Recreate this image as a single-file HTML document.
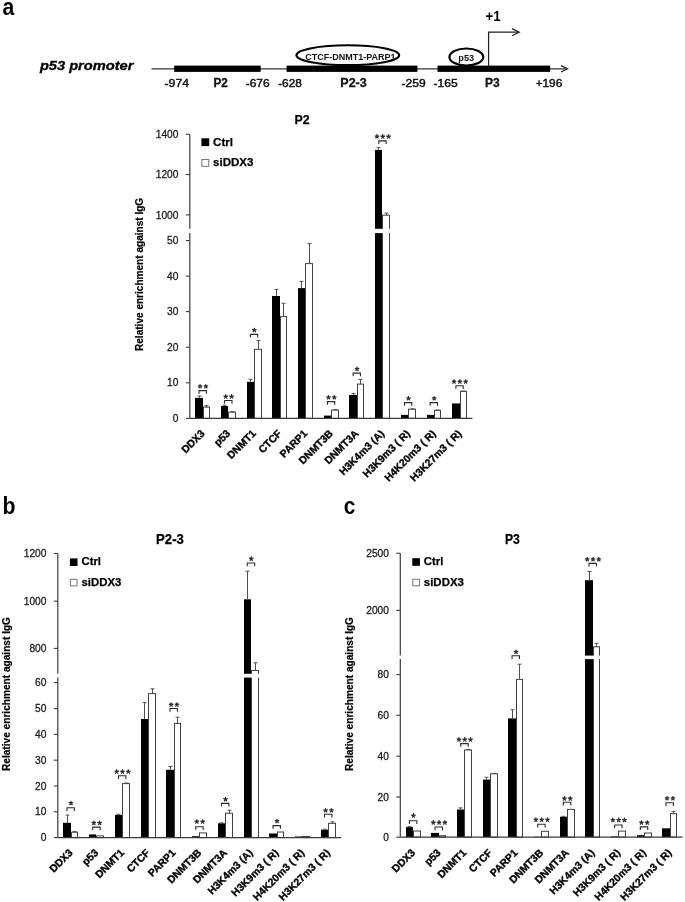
<!DOCTYPE html><html><head><meta charset="utf-8"><style>html,body{margin:0;padding:0;background:#fff;}svg{display:block;filter:grayscale(1);font-family:"Liberation Sans", sans-serif;}</style></head><body>
<svg width="685" height="902" viewBox="0 0 685 902">
<rect x="0" y="0" width="685" height="902" fill="#fff"/>
<text x="2.4" y="15" font-size="24" font-weight="bold" textLength="11.8" lengthAdjust="spacingAndGlyphs">a</text>
<text x="2.4" y="513.8" font-size="24" font-weight="bold" textLength="13" lengthAdjust="spacingAndGlyphs">b</text>
<text x="343.8" y="514.2" font-size="23" font-weight="bold" textLength="11.6" lengthAdjust="spacingAndGlyphs">c</text>
<text x="39.9" y="70.2" font-size="12.5" font-weight="bold" font-style="italic" textLength="93.5" lengthAdjust="spacingAndGlyphs" stroke="#000" stroke-width="0.3">p53 promoter</text>
<line x1="151.5" y1="68.8" x2="566" y2="68.8" stroke="#333" stroke-width="1.15"/>
<path d="M561 65.6 L567.6 68.8 L561 72" fill="none" stroke="#222" stroke-width="1.2"/>
<rect x="174.2" y="65.6" width="86.5" height="6.3" fill="#000"/>
<rect x="286.6" y="65.6" width="130.8" height="6.3" fill="#000"/>
<rect x="437.5" y="65.6" width="112.6" height="6.3" fill="#000"/>
<ellipse cx="347.8" cy="55.2" rx="51.4" ry="9.9" fill="#fff" stroke="#000" stroke-width="2.1"/>
<ellipse cx="466.35" cy="57" rx="16.9" ry="8.5" fill="#fff" stroke="#000" stroke-width="2.2"/>
<text x="305.2" y="59.8" font-size="9.6" font-weight="bold" fill="#111" textLength="90.4" lengthAdjust="spacingAndGlyphs">CTCF-DNMT1-PARP1</text>
<text x="458.3" y="61.1" font-size="9.4" font-weight="bold" fill="#111" textLength="15.8" lengthAdjust="spacingAndGlyphs">p53</text>
<path d="M488.6 66.5 V32.2 H519" fill="none" stroke="#222" stroke-width="1.25"/>
<path d="M512 28.6 L519.2 32.2 L512 35.8" fill="none" stroke="#222" stroke-width="1.2"/>
<text x="485.4" y="20.9" font-size="14" font-weight="bold" textLength="15.2" lengthAdjust="spacingAndGlyphs">+1</text>
<text x="164.5" y="86.9" font-size="11.6" fill="#111" textLength="24.5" lengthAdjust="spacingAndGlyphs" stroke="#111" stroke-width="0.45">-974</text>
<text x="213.5" y="86.9" font-size="12.4" font-weight="bold" fill="#111" textLength="14.3" lengthAdjust="spacingAndGlyphs" stroke="#111" stroke-width="0.3">P2</text>
<text x="245.8" y="86.9" font-size="11.6" fill="#111" textLength="23.8" lengthAdjust="spacingAndGlyphs" stroke="#111" stroke-width="0.45">-676</text>
<text x="278.2" y="86.9" font-size="11.6" fill="#111" textLength="23.6" lengthAdjust="spacingAndGlyphs" stroke="#111" stroke-width="0.45">-628</text>
<text x="340.3" y="86.9" font-size="12.4" font-weight="bold" fill="#111" textLength="26.4" lengthAdjust="spacingAndGlyphs" stroke="#111" stroke-width="0.3">P2-3</text>
<text x="401.6" y="86.9" font-size="11.6" fill="#111" textLength="24.1" lengthAdjust="spacingAndGlyphs" stroke="#111" stroke-width="0.45">-259</text>
<text x="433.6" y="86.9" font-size="11.6" fill="#111" textLength="24.1" lengthAdjust="spacingAndGlyphs" stroke="#111" stroke-width="0.45">-165</text>
<text x="485" y="86.9" font-size="12.4" font-weight="bold" fill="#111" textLength="14.7" lengthAdjust="spacingAndGlyphs" stroke="#111" stroke-width="0.3">P3</text>
<text x="535.7" y="86.9" font-size="11.6" fill="#111" textLength="26.5" lengthAdjust="spacingAndGlyphs" stroke="#111" stroke-width="0.45">+196</text>
<rect x="203.5" y="407.1" width="6" height="11.3" fill="#fff" stroke="#404040" stroke-width="1"/>
<rect x="195" y="397.9" width="8" height="20.5" fill="#000"/>
<line x1="199.5" y1="397.9" x2="199.5" y2="396" stroke="#505050" stroke-width="1"/>
<line x1="197.5" y1="396" x2="201.5" y2="396" stroke="#505050" stroke-width="1"/>
<line x1="206.5" y1="407.1" x2="206.5" y2="405.6" stroke="#505050" stroke-width="1"/>
<line x1="204.5" y1="405.6" x2="208.5" y2="405.6" stroke="#505050" stroke-width="1"/>
<rect x="228.5" y="412.2" width="7" height="6.2" fill="#fff" stroke="#404040" stroke-width="1"/>
<rect x="221" y="406" width="7" height="12.4" fill="#000"/>
<line x1="224.5" y1="406" x2="224.5" y2="405.2" stroke="#505050" stroke-width="1"/>
<line x1="222.5" y1="405.2" x2="226.5" y2="405.2" stroke="#505050" stroke-width="1"/>
<line x1="232.5" y1="412.2" x2="232.5" y2="411.6" stroke="#505050" stroke-width="1"/>
<line x1="230.5" y1="411.6" x2="234.5" y2="411.6" stroke="#505050" stroke-width="1"/>
<rect x="254.5" y="349.3" width="7" height="69.1" fill="#fff" stroke="#404040" stroke-width="1"/>
<rect x="247" y="381.8" width="7" height="36.6" fill="#000"/>
<line x1="250.5" y1="381.8" x2="250.5" y2="379.3" stroke="#505050" stroke-width="1"/>
<line x1="248.5" y1="379.3" x2="252.5" y2="379.3" stroke="#505050" stroke-width="1"/>
<line x1="258.5" y1="349.3" x2="258.5" y2="340.5" stroke="#505050" stroke-width="1"/>
<line x1="256.5" y1="340.5" x2="260.5" y2="340.5" stroke="#505050" stroke-width="1"/>
<rect x="280.5" y="316.6" width="6" height="101.8" fill="#fff" stroke="#404040" stroke-width="1"/>
<rect x="272" y="296" width="8" height="122.4" fill="#000"/>
<line x1="276.5" y1="296" x2="276.5" y2="289.4" stroke="#505050" stroke-width="1"/>
<line x1="274.5" y1="289.4" x2="278.5" y2="289.4" stroke="#505050" stroke-width="1"/>
<line x1="283.5" y1="316.6" x2="283.5" y2="303.3" stroke="#505050" stroke-width="1"/>
<line x1="281.5" y1="303.3" x2="285.5" y2="303.3" stroke="#505050" stroke-width="1"/>
<rect x="305.5" y="263.6" width="7" height="154.8" fill="#fff" stroke="#404040" stroke-width="1"/>
<rect x="298" y="288.1" width="7" height="130.3" fill="#000"/>
<line x1="301.5" y1="288.1" x2="301.5" y2="281.4" stroke="#505050" stroke-width="1"/>
<line x1="299.5" y1="281.4" x2="303.5" y2="281.4" stroke="#505050" stroke-width="1"/>
<line x1="309.5" y1="263.6" x2="309.5" y2="243.6" stroke="#505050" stroke-width="1"/>
<line x1="307.5" y1="243.6" x2="311.5" y2="243.6" stroke="#505050" stroke-width="1"/>
<rect x="331.5" y="410.1" width="7" height="8.3" fill="#fff" stroke="#404040" stroke-width="1"/>
<rect x="324" y="415.6" width="7" height="2.8" fill="#000"/>
<line x1="335.5" y1="410.1" x2="335.5" y2="409.6" stroke="#505050" stroke-width="1"/>
<line x1="333.5" y1="409.6" x2="337.5" y2="409.6" stroke="#505050" stroke-width="1"/>
<rect x="357.5" y="384.1" width="6" height="34.3" fill="#fff" stroke="#404040" stroke-width="1"/>
<rect x="349" y="395" width="8" height="23.4" fill="#000"/>
<line x1="353.5" y1="395" x2="353.5" y2="393.6" stroke="#505050" stroke-width="1"/>
<line x1="351.5" y1="393.6" x2="355.5" y2="393.6" stroke="#505050" stroke-width="1"/>
<line x1="360.5" y1="384.1" x2="360.5" y2="379.4" stroke="#505050" stroke-width="1"/>
<line x1="358.5" y1="379.4" x2="362.5" y2="379.4" stroke="#505050" stroke-width="1"/>
<rect x="382.5" y="215.2" width="7" height="203.2" fill="#fff" stroke="#404040" stroke-width="1"/>
<rect x="375" y="149.9" width="7" height="268.5" fill="#000"/>
<line x1="378.5" y1="149.9" x2="378.5" y2="147.7" stroke="#505050" stroke-width="1"/>
<line x1="376.5" y1="147.7" x2="380.5" y2="147.7" stroke="#505050" stroke-width="1"/>
<line x1="386.5" y1="215.2" x2="386.5" y2="213.1" stroke="#505050" stroke-width="1"/>
<line x1="384.5" y1="213.1" x2="388.5" y2="213.1" stroke="#505050" stroke-width="1"/>
<rect x="408.5" y="409.2" width="7" height="9.2" fill="#fff" stroke="#404040" stroke-width="1"/>
<rect x="401" y="414.9" width="7" height="3.5" fill="#000"/>
<line x1="412.5" y1="409.2" x2="412.5" y2="408.8" stroke="#505050" stroke-width="1"/>
<line x1="410.5" y1="408.8" x2="414.5" y2="408.8" stroke="#505050" stroke-width="1"/>
<rect x="434.5" y="410.4" width="6" height="8" fill="#fff" stroke="#404040" stroke-width="1"/>
<rect x="427" y="414.9" width="7" height="3.5" fill="#000"/>
<line x1="437.5" y1="410.4" x2="437.5" y2="410" stroke="#505050" stroke-width="1"/>
<line x1="435.5" y1="410" x2="439.5" y2="410" stroke="#505050" stroke-width="1"/>
<rect x="460.5" y="391.4" width="6" height="27" fill="#fff" stroke="#404040" stroke-width="1"/>
<rect x="452" y="403.4" width="8" height="15" fill="#000"/>
<line x1="463.5" y1="391.4" x2="463.5" y2="391" stroke="#505050" stroke-width="1"/>
<line x1="461.5" y1="391" x2="465.5" y2="391" stroke="#505050" stroke-width="1"/>
<rect x="190.6" y="228.8" width="282.6" height="4.3" fill="#fff"/>
<path d="M199 393.8 V390.6 H206.3 V393.8" fill="none" stroke="#2a2a2a" stroke-width="1.1"/>
<path d="M200.05 386.4L200.05 384.55M200.05 386.4L201.8 385.83M200.05 386.4L201.13 387.9M200.05 386.4L198.96 387.9M200.05 386.4L198.29 385.83M205.85 386.4L205.85 384.55M205.85 386.4L207.6 385.83M205.85 386.4L206.93 387.9M205.85 386.4L204.76 387.9M205.85 386.4L204.09 385.83" stroke="#2a2a2a" stroke-width="1.3" stroke-linecap="round"/>
<path d="M224.69 403.7 V400.5 H231.99 V403.7" fill="none" stroke="#2a2a2a" stroke-width="1.1"/>
<path d="M225.74 396.6L225.74 394.75M225.74 396.6L227.5 396.03M225.74 396.6L226.82 398.1M225.74 396.6L224.65 398.1M225.74 396.6L223.98 396.03M231.54 396.6L231.54 394.75M231.54 396.6L233.3 396.03M231.54 396.6L232.62 398.1M231.54 396.6L230.45 398.1M231.54 396.6L229.78 396.03" stroke="#2a2a2a" stroke-width="1.3" stroke-linecap="round"/>
<path d="M250.38 337.6 V334.4 H257.68 V337.6" fill="none" stroke="#2a2a2a" stroke-width="1.1"/>
<path d="M254.33 330.2L254.33 328.35M254.33 330.2L256.09 329.63M254.33 330.2L255.41 331.7M254.33 330.2L253.24 331.7M254.33 330.2L252.57 329.63" stroke="#2a2a2a" stroke-width="1.3" stroke-linecap="round"/>
<path d="M327.45 404.8 V401.6 H334.75 V404.8" fill="none" stroke="#2a2a2a" stroke-width="1.1"/>
<path d="M328.5 397.4L328.5 395.55M328.5 397.4L330.26 396.83M328.5 397.4L329.59 398.9M328.5 397.4L327.41 398.9M328.5 397.4L326.74 396.83M334.3 397.4L334.3 395.55M334.3 397.4L336.06 396.83M334.3 397.4L335.39 398.9M334.3 397.4L333.21 398.9M334.3 397.4L332.54 396.83" stroke="#2a2a2a" stroke-width="1.3" stroke-linecap="round"/>
<path d="M353.14 376.3 V373.1 H360.44 V376.3" fill="none" stroke="#2a2a2a" stroke-width="1.1"/>
<path d="M357.09 369L357.09 367.15M357.09 369L358.85 368.43M357.09 369L358.18 370.5M357.09 369L356 370.5M357.09 369L355.33 368.43" stroke="#2a2a2a" stroke-width="1.3" stroke-linecap="round"/>
<path d="M378.83 144.1 V140.9 H386.13 V144.1" fill="none" stroke="#2a2a2a" stroke-width="1.1"/>
<path d="M376.98 136.6L376.98 134.75M376.98 136.6L378.74 136.03M376.98 136.6L378.07 138.1M376.98 136.6L375.89 138.1M376.98 136.6L375.22 136.03M382.78 136.6L382.78 134.75M382.78 136.6L384.54 136.03M382.78 136.6L383.87 138.1M382.78 136.6L381.69 138.1M382.78 136.6L381.02 136.03M388.58 136.6L388.58 134.75M388.58 136.6L390.34 136.03M388.58 136.6L389.67 138.1M388.58 136.6L387.49 138.1M388.58 136.6L386.82 136.03" stroke="#2a2a2a" stroke-width="1.3" stroke-linecap="round"/>
<path d="M404.52 405.8 V402.6 H411.82 V405.8" fill="none" stroke="#2a2a2a" stroke-width="1.1"/>
<path d="M408.47 398.4L408.47 396.55M408.47 398.4L410.23 397.83M408.47 398.4L409.56 399.9M408.47 398.4L407.39 399.9M408.47 398.4L406.71 397.83" stroke="#2a2a2a" stroke-width="1.3" stroke-linecap="round"/>
<path d="M430.21 405.8 V402.6 H437.51 V405.8" fill="none" stroke="#2a2a2a" stroke-width="1.1"/>
<path d="M434.16 398.4L434.16 396.55M434.16 398.4L435.92 397.83M434.16 398.4L435.25 399.9M434.16 398.4L433.08 399.9M434.16 398.4L432.4 397.83" stroke="#2a2a2a" stroke-width="1.3" stroke-linecap="round"/>
<path d="M455.9 389 V385.8 H463.2 V389" fill="none" stroke="#2a2a2a" stroke-width="1.1"/>
<path d="M454.05 381.7L454.05 379.85M454.05 381.7L455.81 381.13M454.05 381.7L455.14 383.2M454.05 381.7L452.97 383.2M454.05 381.7L452.3 381.13M459.85 381.7L459.85 379.85M459.85 381.7L461.61 381.13M459.85 381.7L460.94 383.2M459.85 381.7L458.77 383.2M459.85 381.7L458.1 381.13M465.65 381.7L465.65 379.85M465.65 381.7L467.41 381.13M465.65 381.7L466.74 383.2M465.65 381.7L464.57 383.2M465.65 381.7L463.9 381.13" stroke="#2a2a2a" stroke-width="1.3" stroke-linecap="round"/>
<line x1="189.8" y1="134.3" x2="189.8" y2="228.8" stroke="#3a3a3a" stroke-width="1.2"/>
<line x1="189.8" y1="233.1" x2="189.8" y2="418.4" stroke="#3a3a3a" stroke-width="1.2"/>
<line x1="189.8" y1="418.4" x2="472.4" y2="418.4" stroke="#3a3a3a" stroke-width="1.2"/>
<line x1="185.8" y1="134.3" x2="189.8" y2="134.3" stroke="#3a3a3a" stroke-width="1.1"/>
<text x="178.4" y="137.9" font-size="10.2" text-anchor="end" fill="#1a1a1a" stroke="#1a1a1a" stroke-width="0.28">1400</text>
<line x1="185.8" y1="174.5" x2="189.8" y2="174.5" stroke="#3a3a3a" stroke-width="1.1"/>
<text x="178.4" y="178.1" font-size="10.2" text-anchor="end" fill="#1a1a1a" stroke="#1a1a1a" stroke-width="0.28">1200</text>
<line x1="185.8" y1="214.9" x2="189.8" y2="214.9" stroke="#3a3a3a" stroke-width="1.1"/>
<text x="178.4" y="218.5" font-size="10.2" text-anchor="end" fill="#1a1a1a" stroke="#1a1a1a" stroke-width="0.28">1000</text>
<line x1="185.8" y1="240.6" x2="189.8" y2="240.6" stroke="#3a3a3a" stroke-width="1.1"/>
<text x="178.4" y="244.2" font-size="10.2" text-anchor="end" fill="#1a1a1a" stroke="#1a1a1a" stroke-width="0.28">50</text>
<line x1="185.8" y1="276.1" x2="189.8" y2="276.1" stroke="#3a3a3a" stroke-width="1.1"/>
<text x="178.4" y="279.7" font-size="10.2" text-anchor="end" fill="#1a1a1a" stroke="#1a1a1a" stroke-width="0.28">40</text>
<line x1="185.8" y1="311.6" x2="189.8" y2="311.6" stroke="#3a3a3a" stroke-width="1.1"/>
<text x="178.4" y="315.2" font-size="10.2" text-anchor="end" fill="#1a1a1a" stroke="#1a1a1a" stroke-width="0.28">30</text>
<line x1="185.8" y1="347.3" x2="189.8" y2="347.3" stroke="#3a3a3a" stroke-width="1.1"/>
<text x="178.4" y="350.9" font-size="10.2" text-anchor="end" fill="#1a1a1a" stroke="#1a1a1a" stroke-width="0.28">20</text>
<line x1="185.8" y1="382.8" x2="189.8" y2="382.8" stroke="#3a3a3a" stroke-width="1.1"/>
<text x="178.4" y="386.4" font-size="10.2" text-anchor="end" fill="#1a1a1a" stroke="#1a1a1a" stroke-width="0.28">10</text>
<line x1="185.8" y1="418.4" x2="189.8" y2="418.4" stroke="#3a3a3a" stroke-width="1.1"/>
<text x="178.4" y="422" font-size="10.2" text-anchor="end" fill="#1a1a1a" stroke="#1a1a1a" stroke-width="0.28">0</text>
<text x="205.25" y="434.2" font-size="10.4" font-weight="bold" text-anchor="end" transform="rotate(-45 205.25 434.2)" stroke="#000" stroke-width="0.35">DDX3</text>
<text x="230.94" y="434.2" font-size="10.4" font-weight="bold" text-anchor="end" transform="rotate(-45 230.94 434.2)" stroke="#000" stroke-width="0.35">p53</text>
<text x="256.63" y="434.2" font-size="10.4" font-weight="bold" text-anchor="end" transform="rotate(-45 256.63 434.2)" stroke="#000" stroke-width="0.35">DNMT1</text>
<text x="282.32" y="434.2" font-size="10.4" font-weight="bold" text-anchor="end" transform="rotate(-45 282.32 434.2)" stroke="#000" stroke-width="0.35">CTCF</text>
<text x="308.01" y="434.2" font-size="10.4" font-weight="bold" text-anchor="end" transform="rotate(-45 308.01 434.2)" stroke="#000" stroke-width="0.35">PARP1</text>
<text x="333.7" y="434.2" font-size="10.4" font-weight="bold" text-anchor="end" transform="rotate(-45 333.7 434.2)" stroke="#000" stroke-width="0.35">DNMT3B</text>
<text x="359.39" y="434.2" font-size="10.4" font-weight="bold" text-anchor="end" transform="rotate(-45 359.39 434.2)" stroke="#000" stroke-width="0.35">DNMT3A</text>
<text x="385.08" y="434.2" font-size="10.4" font-weight="bold" text-anchor="end" transform="rotate(-45 385.08 434.2)" stroke="#000" stroke-width="0.35">H3K4m3 (A)</text>
<text x="410.77" y="434.2" font-size="10.4" font-weight="bold" text-anchor="end" transform="rotate(-45 410.77 434.2)" stroke="#000" stroke-width="0.35">H3K9m3 ( R)</text>
<text x="436.46" y="434.2" font-size="10.4" font-weight="bold" text-anchor="end" transform="rotate(-45 436.46 434.2)" stroke="#000" stroke-width="0.35">H4K20m3 ( R)</text>
<text x="462.15" y="434.2" font-size="10.4" font-weight="bold" text-anchor="end" transform="rotate(-45 462.15 434.2)" stroke="#000" stroke-width="0.35">H3K27m3 ( R)</text>
<text x="142.6" y="351" font-size="11" font-weight="bold" transform="rotate(-90 142.6 351)" textLength="153.2" lengthAdjust="spacingAndGlyphs" stroke="#000" stroke-width="0.2">Relative enrichment against IgG</text>
<text x="294.5" y="124.4" font-size="13.6" font-weight="bold" textLength="15.1" lengthAdjust="spacingAndGlyphs" stroke="#000" stroke-width="0.25">P2</text>
<rect x="201.4" y="138.3" width="7.8" height="7.8" fill="#000"/>
<rect x="201.9" y="159.5" width="6.8" height="6.8" fill="#fff" stroke="#777" stroke-width="1"/>
<text x="213" y="145.9" font-size="11.5" font-weight="bold" textLength="20" lengthAdjust="spacingAndGlyphs" stroke="#000" stroke-width="0.25">Ctrl</text>
<text x="213" y="166.3" font-size="11.5" font-weight="bold" textLength="40.5" lengthAdjust="spacingAndGlyphs" stroke="#000" stroke-width="0.25">siDDX3</text>
<rect x="71.5" y="832.2" width="6" height="5.4" fill="#fff" stroke="#404040" stroke-width="1"/>
<rect x="63" y="822.8" width="8" height="14.8" fill="#000"/>
<line x1="67.5" y1="822.8" x2="67.5" y2="815.1" stroke="#505050" stroke-width="1"/>
<line x1="65.5" y1="815.1" x2="69.5" y2="815.1" stroke="#505050" stroke-width="1"/>
<line x1="74.5" y1="832.2" x2="74.5" y2="831.6" stroke="#505050" stroke-width="1"/>
<line x1="72.5" y1="831.6" x2="76.5" y2="831.6" stroke="#505050" stroke-width="1"/>
<rect x="96.5" y="835.9" width="7" height="1.7" fill="#fff" stroke="#404040" stroke-width="1"/>
<rect x="89" y="834.4" width="7" height="3.2" fill="#000"/>
<rect x="122.5" y="783.6" width="7" height="54" fill="#fff" stroke="#404040" stroke-width="1"/>
<rect x="115" y="814.9" width="7" height="22.7" fill="#000"/>
<line x1="118.5" y1="814.9" x2="118.5" y2="814.2" stroke="#505050" stroke-width="1"/>
<line x1="116.5" y1="814.2" x2="120.5" y2="814.2" stroke="#505050" stroke-width="1"/>
<line x1="126.5" y1="783.6" x2="126.5" y2="783" stroke="#505050" stroke-width="1"/>
<line x1="124.5" y1="783" x2="128.5" y2="783" stroke="#505050" stroke-width="1"/>
<rect x="148.5" y="693.6" width="7" height="144" fill="#fff" stroke="#404040" stroke-width="1"/>
<rect x="141" y="719" width="7" height="118.6" fill="#000"/>
<line x1="144.5" y1="719" x2="144.5" y2="702.6" stroke="#505050" stroke-width="1"/>
<line x1="142.5" y1="702.6" x2="146.5" y2="702.6" stroke="#505050" stroke-width="1"/>
<line x1="152.5" y1="693.6" x2="152.5" y2="688.8" stroke="#505050" stroke-width="1"/>
<line x1="150.5" y1="688.8" x2="154.5" y2="688.8" stroke="#505050" stroke-width="1"/>
<rect x="174.5" y="723.4" width="6" height="114.2" fill="#fff" stroke="#404040" stroke-width="1"/>
<rect x="166" y="769.8" width="8" height="67.8" fill="#000"/>
<line x1="170.5" y1="769.8" x2="170.5" y2="766.5" stroke="#505050" stroke-width="1"/>
<line x1="168.5" y1="766.5" x2="172.5" y2="766.5" stroke="#505050" stroke-width="1"/>
<line x1="177.5" y1="723.4" x2="177.5" y2="717.2" stroke="#505050" stroke-width="1"/>
<line x1="175.5" y1="717.2" x2="179.5" y2="717.2" stroke="#505050" stroke-width="1"/>
<rect x="199.5" y="832.9" width="7" height="4.7" fill="#fff" stroke="#404040" stroke-width="1"/>
<rect x="192" y="836.2" width="7" height="1.4" fill="#000"/>
<rect x="225.5" y="813.2" width="7" height="24.4" fill="#fff" stroke="#404040" stroke-width="1"/>
<rect x="218" y="823.3" width="7" height="14.3" fill="#000"/>
<line x1="221.5" y1="823.3" x2="221.5" y2="822.8" stroke="#505050" stroke-width="1"/>
<line x1="219.5" y1="822.8" x2="223.5" y2="822.8" stroke="#505050" stroke-width="1"/>
<line x1="229.5" y1="813.2" x2="229.5" y2="810.2" stroke="#505050" stroke-width="1"/>
<line x1="227.5" y1="810.2" x2="231.5" y2="810.2" stroke="#505050" stroke-width="1"/>
<rect x="251.5" y="670.5" width="7" height="167.1" fill="#fff" stroke="#404040" stroke-width="1"/>
<rect x="244" y="599.3" width="7" height="238.3" fill="#000"/>
<line x1="247.5" y1="599.3" x2="247.5" y2="571.2" stroke="#505050" stroke-width="1"/>
<line x1="245.5" y1="571.2" x2="249.5" y2="571.2" stroke="#505050" stroke-width="1"/>
<line x1="255.5" y1="670.5" x2="255.5" y2="662.8" stroke="#505050" stroke-width="1"/>
<line x1="253.5" y1="662.8" x2="257.5" y2="662.8" stroke="#505050" stroke-width="1"/>
<rect x="277.5" y="832" width="6" height="5.6" fill="#fff" stroke="#404040" stroke-width="1"/>
<rect x="269" y="833.5" width="8" height="4.1" fill="#000"/>
<rect x="302.5" y="836.5" width="7" height="1.1" fill="#fff" stroke="#404040" stroke-width="1"/>
<rect x="295" y="836.5" width="7" height="1.1" fill="#000"/>
<rect x="328.5" y="823.3" width="7" height="14.3" fill="#fff" stroke="#404040" stroke-width="1"/>
<rect x="321" y="829.7" width="7" height="7.9" fill="#000"/>
<line x1="324.5" y1="829.7" x2="324.5" y2="829.2" stroke="#505050" stroke-width="1"/>
<line x1="322.5" y1="829.2" x2="326.5" y2="829.2" stroke="#505050" stroke-width="1"/>
<line x1="332.5" y1="823.3" x2="332.5" y2="821.8" stroke="#505050" stroke-width="1"/>
<line x1="330.5" y1="821.8" x2="334.5" y2="821.8" stroke="#505050" stroke-width="1"/>
<rect x="58.6" y="673.8" width="283.3" height="3.8" fill="#fff"/>
<path d="M66.98 810.9 V807.7 H74.38 V810.9" fill="none" stroke="#2a2a2a" stroke-width="1.1"/>
<path d="M70.98 803.2L70.98 801.35M70.98 803.2L72.74 802.63M70.98 803.2L72.06 804.7M70.98 803.2L69.89 804.7M70.98 803.2L69.22 802.63" stroke="#2a2a2a" stroke-width="1.3" stroke-linecap="round"/>
<path d="M92.73 830.3 V827.1 H100.13 V830.3" fill="none" stroke="#2a2a2a" stroke-width="1.1"/>
<path d="M93.83 823L93.83 821.15M93.83 823L95.59 822.43M93.83 823L94.92 824.5M93.83 823L92.74 824.5M93.83 823L92.07 822.43M99.63 823L99.63 821.15M99.63 823L101.39 822.43M99.63 823L100.72 824.5M99.63 823L98.54 824.5M99.63 823L97.87 822.43" stroke="#2a2a2a" stroke-width="1.3" stroke-linecap="round"/>
<path d="M118.49 778.9 V775.7 H125.89 V778.9" fill="none" stroke="#2a2a2a" stroke-width="1.1"/>
<path d="M116.69 771.7L116.69 769.85M116.69 771.7L118.45 771.13M116.69 771.7L117.77 773.2M116.69 771.7L115.6 773.2M116.69 771.7L114.93 771.13M122.49 771.7L122.49 769.85M122.49 771.7L124.25 771.13M122.49 771.7L123.57 773.2M122.49 771.7L121.4 773.2M122.49 771.7L120.73 771.13M128.29 771.7L128.29 769.85M128.29 771.7L130.05 771.13M128.29 771.7L129.37 773.2M128.29 771.7L127.2 773.2M128.29 771.7L126.53 771.13" stroke="#2a2a2a" stroke-width="1.3" stroke-linecap="round"/>
<path d="M170 711.7 V708.5 H177.4 V711.7" fill="none" stroke="#2a2a2a" stroke-width="1.1"/>
<path d="M171.1 704.7L171.1 702.85M171.1 704.7L172.85 704.13M171.1 704.7L172.18 706.2M171.1 704.7L170.01 706.2M171.1 704.7L169.34 704.13M176.9 704.7L176.9 702.85M176.9 704.7L178.65 704.13M176.9 704.7L177.98 706.2M176.9 704.7L175.81 706.2M176.9 704.7L175.14 704.13" stroke="#2a2a2a" stroke-width="1.3" stroke-linecap="round"/>
<path d="M195.75 829.9 V826.7 H203.15 V829.9" fill="none" stroke="#2a2a2a" stroke-width="1.1"/>
<path d="M196.85 821.7L196.85 819.85M196.85 821.7L198.61 821.13M196.85 821.7L197.94 823.2M196.85 821.7L195.76 823.2M196.85 821.7L195.09 821.13M202.65 821.7L202.65 819.85M202.65 821.7L204.41 821.13M202.65 821.7L203.74 823.2M202.65 821.7L201.56 823.2M202.65 821.7L200.89 821.13" stroke="#2a2a2a" stroke-width="1.3" stroke-linecap="round"/>
<path d="M221.5 806.6 V803.4 H228.9 V806.6" fill="none" stroke="#2a2a2a" stroke-width="1.1"/>
<path d="M225.5 799.3L225.5 797.45M225.5 799.3L227.26 798.73M225.5 799.3L226.59 800.8M225.5 799.3L224.42 800.8M225.5 799.3L223.75 798.73" stroke="#2a2a2a" stroke-width="1.3" stroke-linecap="round"/>
<path d="M247.26 566.2 V563 H254.66 V566.2" fill="none" stroke="#2a2a2a" stroke-width="1.1"/>
<path d="M251.26 558.8L251.26 556.95M251.26 558.8L253.02 558.23M251.26 558.8L252.35 560.3M251.26 558.8L250.17 560.3M251.26 558.8L249.5 558.23" stroke="#2a2a2a" stroke-width="1.3" stroke-linecap="round"/>
<path d="M273.01 828.8 V825.6 H280.41 V828.8" fill="none" stroke="#2a2a2a" stroke-width="1.1"/>
<path d="M277.01 821.2L277.01 819.35M277.01 821.2L278.77 820.63M277.01 821.2L278.1 822.7M277.01 821.2L275.93 822.7M277.01 821.2L275.25 820.63" stroke="#2a2a2a" stroke-width="1.3" stroke-linecap="round"/>
<path d="M324.52 817.5 V814.3 H331.92 V817.5" fill="none" stroke="#2a2a2a" stroke-width="1.1"/>
<path d="M325.62 810.4L325.62 808.55M325.62 810.4L327.38 809.83M325.62 810.4L326.71 811.9M325.62 810.4L324.54 811.9M325.62 810.4L323.86 809.83M331.42 810.4L331.42 808.55M331.42 810.4L333.18 809.83M331.42 810.4L332.51 811.9M331.42 810.4L330.34 811.9M331.42 810.4L329.66 809.83" stroke="#2a2a2a" stroke-width="1.3" stroke-linecap="round"/>
<line x1="57.8" y1="553.5" x2="57.8" y2="673.8" stroke="#3a3a3a" stroke-width="1.2"/>
<line x1="57.8" y1="677.6" x2="57.8" y2="837.6" stroke="#3a3a3a" stroke-width="1.2"/>
<line x1="57.8" y1="837.6" x2="341.1" y2="837.6" stroke="#3a3a3a" stroke-width="1.2"/>
<line x1="53.8" y1="553.5" x2="57.8" y2="553.5" stroke="#3a3a3a" stroke-width="1.1"/>
<text x="46.4" y="557.1" font-size="10.2" text-anchor="end" fill="#1a1a1a" stroke="#1a1a1a" stroke-width="0.28">1200</text>
<line x1="53.8" y1="601.2" x2="57.8" y2="601.2" stroke="#3a3a3a" stroke-width="1.1"/>
<text x="46.4" y="604.8" font-size="10.2" text-anchor="end" fill="#1a1a1a" stroke="#1a1a1a" stroke-width="0.28">1000</text>
<line x1="53.8" y1="648.4" x2="57.8" y2="648.4" stroke="#3a3a3a" stroke-width="1.1"/>
<text x="46.4" y="652" font-size="10.2" text-anchor="end" fill="#1a1a1a" stroke="#1a1a1a" stroke-width="0.28">800</text>
<line x1="53.8" y1="682.6" x2="57.8" y2="682.6" stroke="#3a3a3a" stroke-width="1.1"/>
<text x="46.4" y="686.2" font-size="10.2" text-anchor="end" fill="#1a1a1a" stroke="#1a1a1a" stroke-width="0.28">60</text>
<line x1="53.8" y1="708.6" x2="57.8" y2="708.6" stroke="#3a3a3a" stroke-width="1.1"/>
<text x="46.4" y="712.2" font-size="10.2" text-anchor="end" fill="#1a1a1a" stroke="#1a1a1a" stroke-width="0.28">50</text>
<line x1="53.8" y1="734.4" x2="57.8" y2="734.4" stroke="#3a3a3a" stroke-width="1.1"/>
<text x="46.4" y="738" font-size="10.2" text-anchor="end" fill="#1a1a1a" stroke="#1a1a1a" stroke-width="0.28">40</text>
<line x1="53.8" y1="760.2" x2="57.8" y2="760.2" stroke="#3a3a3a" stroke-width="1.1"/>
<text x="46.4" y="763.8" font-size="10.2" text-anchor="end" fill="#1a1a1a" stroke="#1a1a1a" stroke-width="0.28">30</text>
<line x1="53.8" y1="786" x2="57.8" y2="786" stroke="#3a3a3a" stroke-width="1.1"/>
<text x="46.4" y="789.6" font-size="10.2" text-anchor="end" fill="#1a1a1a" stroke="#1a1a1a" stroke-width="0.28">20</text>
<line x1="53.8" y1="811.8" x2="57.8" y2="811.8" stroke="#3a3a3a" stroke-width="1.1"/>
<text x="46.4" y="815.4" font-size="10.2" text-anchor="end" fill="#1a1a1a" stroke="#1a1a1a" stroke-width="0.28">10</text>
<line x1="53.8" y1="837.6" x2="57.8" y2="837.6" stroke="#3a3a3a" stroke-width="1.1"/>
<text x="46.4" y="841.2" font-size="10.2" text-anchor="end" fill="#1a1a1a" stroke="#1a1a1a" stroke-width="0.28">0</text>
<text x="73.28" y="853.4" font-size="10.4" font-weight="bold" text-anchor="end" transform="rotate(-45 73.28 853.4)" stroke="#000" stroke-width="0.35">DDX3</text>
<text x="99.03" y="853.4" font-size="10.4" font-weight="bold" text-anchor="end" transform="rotate(-45 99.03 853.4)" stroke="#000" stroke-width="0.35">p53</text>
<text x="124.79" y="853.4" font-size="10.4" font-weight="bold" text-anchor="end" transform="rotate(-45 124.79 853.4)" stroke="#000" stroke-width="0.35">DNMT1</text>
<text x="150.54" y="853.4" font-size="10.4" font-weight="bold" text-anchor="end" transform="rotate(-45 150.54 853.4)" stroke="#000" stroke-width="0.35">CTCF</text>
<text x="176.3" y="853.4" font-size="10.4" font-weight="bold" text-anchor="end" transform="rotate(-45 176.3 853.4)" stroke="#000" stroke-width="0.35">PARP1</text>
<text x="202.05" y="853.4" font-size="10.4" font-weight="bold" text-anchor="end" transform="rotate(-45 202.05 853.4)" stroke="#000" stroke-width="0.35">DNMT3B</text>
<text x="227.8" y="853.4" font-size="10.4" font-weight="bold" text-anchor="end" transform="rotate(-45 227.8 853.4)" stroke="#000" stroke-width="0.35">DNMT3A</text>
<text x="253.56" y="853.4" font-size="10.4" font-weight="bold" text-anchor="end" transform="rotate(-45 253.56 853.4)" stroke="#000" stroke-width="0.35">H3K4m3 (A)</text>
<text x="279.31" y="853.4" font-size="10.4" font-weight="bold" text-anchor="end" transform="rotate(-45 279.31 853.4)" stroke="#000" stroke-width="0.35">H3K9m3 ( R)</text>
<text x="305.07" y="853.4" font-size="10.4" font-weight="bold" text-anchor="end" transform="rotate(-45 305.07 853.4)" stroke="#000" stroke-width="0.35">H4K20m3 ( R)</text>
<text x="330.82" y="853.4" font-size="10.4" font-weight="bold" text-anchor="end" transform="rotate(-45 330.82 853.4)" stroke="#000" stroke-width="0.35">H3K27m3 ( R)</text>
<text x="10.4" y="771" font-size="11" font-weight="bold" transform="rotate(-90 10.4 771)" textLength="154" lengthAdjust="spacingAndGlyphs" stroke="#000" stroke-width="0.2">Relative enrichment against IgG</text>
<text x="156.1" y="543.8" font-size="13.8" font-weight="bold" textLength="27.8" lengthAdjust="spacingAndGlyphs" stroke="#000" stroke-width="0.25">P2-3</text>
<rect x="69.9" y="558.4" width="7.6" height="7.6" fill="#000"/>
<rect x="70.4" y="579.3" width="6.6" height="6.6" fill="#fff" stroke="#777" stroke-width="1"/>
<text x="81.5" y="565.4" font-size="11.5" font-weight="bold" textLength="19.4" lengthAdjust="spacingAndGlyphs" stroke="#000" stroke-width="0.25">Ctrl</text>
<text x="81.5" y="586.2" font-size="11.5" font-weight="bold" textLength="39.8" lengthAdjust="spacingAndGlyphs" stroke="#000" stroke-width="0.25">siDDX3</text>
<rect x="413.5" y="831" width="7" height="6.2" fill="#fff" stroke="#404040" stroke-width="1"/>
<rect x="406" y="827.1" width="7" height="10.1" fill="#000"/>
<line x1="409.5" y1="827.1" x2="409.5" y2="826.6" stroke="#505050" stroke-width="1"/>
<line x1="407.5" y1="826.6" x2="411.5" y2="826.6" stroke="#505050" stroke-width="1"/>
<rect x="439.5" y="835.7" width="6" height="1.5" fill="#fff" stroke="#404040" stroke-width="1"/>
<rect x="431" y="832.9" width="8" height="4.3" fill="#000"/>
<rect x="464.5" y="750" width="7" height="87.2" fill="#fff" stroke="#404040" stroke-width="1"/>
<rect x="457" y="809.5" width="7" height="27.7" fill="#000"/>
<line x1="460.5" y1="809.5" x2="460.5" y2="807.9" stroke="#505050" stroke-width="1"/>
<line x1="458.5" y1="807.9" x2="462.5" y2="807.9" stroke="#505050" stroke-width="1"/>
<line x1="468.5" y1="750" x2="468.5" y2="749.5" stroke="#505050" stroke-width="1"/>
<line x1="466.5" y1="749.5" x2="470.5" y2="749.5" stroke="#505050" stroke-width="1"/>
<rect x="490.5" y="773.8" width="7" height="63.4" fill="#fff" stroke="#404040" stroke-width="1"/>
<rect x="483" y="779.6" width="7" height="57.6" fill="#000"/>
<line x1="486.5" y1="779.6" x2="486.5" y2="777.3" stroke="#505050" stroke-width="1"/>
<line x1="484.5" y1="777.3" x2="488.5" y2="777.3" stroke="#505050" stroke-width="1"/>
<line x1="494.5" y1="773.8" x2="494.5" y2="773.3" stroke="#505050" stroke-width="1"/>
<line x1="492.5" y1="773.3" x2="496.5" y2="773.3" stroke="#505050" stroke-width="1"/>
<rect x="516.5" y="679.4" width="6" height="157.8" fill="#fff" stroke="#404040" stroke-width="1"/>
<rect x="508" y="718.4" width="8" height="118.8" fill="#000"/>
<line x1="512.5" y1="718.4" x2="512.5" y2="709.8" stroke="#505050" stroke-width="1"/>
<line x1="510.5" y1="709.8" x2="514.5" y2="709.8" stroke="#505050" stroke-width="1"/>
<line x1="519.5" y1="679.4" x2="519.5" y2="664.2" stroke="#505050" stroke-width="1"/>
<line x1="517.5" y1="664.2" x2="521.5" y2="664.2" stroke="#505050" stroke-width="1"/>
<rect x="541.5" y="831.3" width="7" height="5.9" fill="#fff" stroke="#404040" stroke-width="1"/>
<rect x="534" y="836.8" width="7" height="0.4" fill="#000"/>
<rect x="567.5" y="809.4" width="7" height="27.8" fill="#fff" stroke="#404040" stroke-width="1"/>
<rect x="560" y="816.8" width="7" height="20.4" fill="#000"/>
<line x1="563.5" y1="816.8" x2="563.5" y2="816.3" stroke="#505050" stroke-width="1"/>
<line x1="561.5" y1="816.3" x2="565.5" y2="816.3" stroke="#505050" stroke-width="1"/>
<rect x="593.5" y="646.8" width="6" height="190.4" fill="#fff" stroke="#404040" stroke-width="1"/>
<rect x="585" y="580.2" width="8" height="257" fill="#000"/>
<line x1="589.5" y1="580.2" x2="589.5" y2="571.5" stroke="#505050" stroke-width="1"/>
<line x1="587.5" y1="571.5" x2="591.5" y2="571.5" stroke="#505050" stroke-width="1"/>
<line x1="596.5" y1="646.8" x2="596.5" y2="643.3" stroke="#505050" stroke-width="1"/>
<line x1="594.5" y1="643.3" x2="598.5" y2="643.3" stroke="#505050" stroke-width="1"/>
<rect x="618.5" y="831.1" width="7" height="6.1" fill="#fff" stroke="#404040" stroke-width="1"/>
<rect x="611" y="836.4" width="7" height="0.8" fill="#000"/>
<rect x="644.5" y="833" width="7" height="4.2" fill="#fff" stroke="#404040" stroke-width="1"/>
<rect x="637" y="835.2" width="7" height="2" fill="#000"/>
<rect x="670.5" y="813.6" width="6" height="23.6" fill="#fff" stroke="#404040" stroke-width="1"/>
<rect x="662" y="828.3" width="8" height="8.9" fill="#000"/>
<line x1="673.5" y1="813.6" x2="673.5" y2="811.4" stroke="#505050" stroke-width="1"/>
<line x1="671.5" y1="811.4" x2="675.5" y2="811.4" stroke="#505050" stroke-width="1"/>
<rect x="401.1" y="655.6" width="282.2" height="3.5" fill="#fff"/>
<path d="M409.43 823.9 V820.7 H416.83 V823.9" fill="none" stroke="#2a2a2a" stroke-width="1.1"/>
<path d="M413.43 815.6L413.43 813.75M413.43 815.6L415.19 815.03M413.43 815.6L414.51 817.1M413.43 815.6L412.34 817.1M413.43 815.6L411.67 815.03" stroke="#2a2a2a" stroke-width="1.3" stroke-linecap="round"/>
<path d="M435.08 830.2 V827 H442.48 V830.2" fill="none" stroke="#2a2a2a" stroke-width="1.1"/>
<path d="M433.28 822.6L433.28 820.75M433.28 822.6L435.04 822.03M433.28 822.6L434.37 824.1M433.28 822.6L432.19 824.1M433.28 822.6L431.52 822.03M439.08 822.6L439.08 820.75M439.08 822.6L440.84 822.03M439.08 822.6L440.17 824.1M439.08 822.6L437.99 824.1M439.08 822.6L437.32 822.03M444.88 822.6L444.88 820.75M444.88 822.6L446.64 822.03M444.88 822.6L445.97 824.1M444.88 822.6L443.79 824.1M444.88 822.6L443.12 822.03" stroke="#2a2a2a" stroke-width="1.3" stroke-linecap="round"/>
<path d="M460.74 746.8 V743.6 H468.14 V746.8" fill="none" stroke="#2a2a2a" stroke-width="1.1"/>
<path d="M458.94 739.6L458.94 737.75M458.94 739.6L460.7 739.03M458.94 739.6L460.02 741.1M458.94 739.6L457.85 741.1M458.94 739.6L457.18 739.03M464.74 739.6L464.74 737.75M464.74 739.6L466.5 739.03M464.74 739.6L465.82 741.1M464.74 739.6L463.65 741.1M464.74 739.6L462.98 739.03M470.54 739.6L470.54 737.75M470.54 739.6L472.3 739.03M470.54 739.6L471.62 741.1M470.54 739.6L469.45 741.1M470.54 739.6L468.78 739.03" stroke="#2a2a2a" stroke-width="1.3" stroke-linecap="round"/>
<path d="M512.05 658.9 V655.7 H519.45 V658.9" fill="none" stroke="#2a2a2a" stroke-width="1.1"/>
<path d="M516.05 651.9L516.05 650.05M516.05 651.9L517.8 651.33M516.05 651.9L517.13 653.4M516.05 651.9L514.96 653.4M516.05 651.9L514.29 651.33" stroke="#2a2a2a" stroke-width="1.3" stroke-linecap="round"/>
<path d="M537.7 827.5 V824.3 H545.1 V827.5" fill="none" stroke="#2a2a2a" stroke-width="1.1"/>
<path d="M535.9 819.8L535.9 817.95M535.9 819.8L537.66 819.23M535.9 819.8L536.99 821.3M535.9 819.8L534.81 821.3M535.9 819.8L534.14 819.23M541.7 819.8L541.7 817.95M541.7 819.8L543.46 819.23M541.7 819.8L542.79 821.3M541.7 819.8L540.61 821.3M541.7 819.8L539.94 819.23M547.5 819.8L547.5 817.95M547.5 819.8L549.26 819.23M547.5 819.8L548.59 821.3M547.5 819.8L546.41 821.3M547.5 819.8L545.74 819.23" stroke="#2a2a2a" stroke-width="1.3" stroke-linecap="round"/>
<path d="M563.35 805.5 V802.3 H570.75 V805.5" fill="none" stroke="#2a2a2a" stroke-width="1.1"/>
<path d="M564.45 798.6L564.45 796.75M564.45 798.6L566.21 798.03M564.45 798.6L565.54 800.1M564.45 798.6L563.37 800.1M564.45 798.6L562.7 798.03M570.25 798.6L570.25 796.75M570.25 798.6L572.01 798.03M570.25 798.6L571.34 800.1M570.25 798.6L569.17 800.1M570.25 798.6L568.5 798.03" stroke="#2a2a2a" stroke-width="1.3" stroke-linecap="round"/>
<path d="M589.01 566.6 V563.4 H596.41 V566.6" fill="none" stroke="#2a2a2a" stroke-width="1.1"/>
<path d="M587.21 559.4L587.21 557.55M587.21 559.4L588.97 558.83M587.21 559.4L588.3 560.9M587.21 559.4L586.12 560.9M587.21 559.4L585.45 558.83M593.01 559.4L593.01 557.55M593.01 559.4L594.77 558.83M593.01 559.4L594.1 560.9M593.01 559.4L591.92 560.9M593.01 559.4L591.25 558.83M598.81 559.4L598.81 557.55M598.81 559.4L600.57 558.83M598.81 559.4L599.9 560.9M598.81 559.4L597.72 560.9M598.81 559.4L597.05 558.83" stroke="#2a2a2a" stroke-width="1.3" stroke-linecap="round"/>
<path d="M614.66 828.2 V825 H622.06 V828.2" fill="none" stroke="#2a2a2a" stroke-width="1.1"/>
<path d="M612.86 820.1L612.86 818.25M612.86 820.1L614.62 819.53M612.86 820.1L613.95 821.6M612.86 820.1L611.78 821.6M612.86 820.1L611.1 819.53M618.66 820.1L618.66 818.25M618.66 820.1L620.42 819.53M618.66 820.1L619.75 821.6M618.66 820.1L617.58 821.6M618.66 820.1L616.9 819.53M624.46 820.1L624.46 818.25M624.46 820.1L626.22 819.53M624.46 820.1L625.55 821.6M624.46 820.1L623.38 821.6M624.46 820.1L622.7 819.53" stroke="#2a2a2a" stroke-width="1.3" stroke-linecap="round"/>
<path d="M640.32 830.1 V826.9 H647.72 V830.1" fill="none" stroke="#2a2a2a" stroke-width="1.1"/>
<path d="M641.42 822.7L641.42 820.85M641.42 822.7L643.18 822.13M641.42 822.7L642.51 824.2M641.42 822.7L640.33 824.2M641.42 822.7L639.66 822.13M647.22 822.7L647.22 820.85M647.22 822.7L648.98 822.13M647.22 822.7L648.31 824.2M647.22 822.7L646.13 824.2M647.22 822.7L645.46 822.13" stroke="#2a2a2a" stroke-width="1.3" stroke-linecap="round"/>
<path d="M665.97 806 V802.8 H673.37 V806" fill="none" stroke="#2a2a2a" stroke-width="1.1"/>
<path d="M667.07 798.4L667.07 796.55M667.07 798.4L668.83 797.83M667.07 798.4L668.16 799.9M667.07 798.4L665.99 799.9M667.07 798.4L665.31 797.83M672.87 798.4L672.87 796.55M672.87 798.4L674.63 797.83M672.87 798.4L673.96 799.9M672.87 798.4L671.79 799.9M672.87 798.4L671.11 797.83" stroke="#2a2a2a" stroke-width="1.3" stroke-linecap="round"/>
<line x1="400.3" y1="553.3" x2="400.3" y2="655.6" stroke="#3a3a3a" stroke-width="1.2"/>
<line x1="400.3" y1="659.1" x2="400.3" y2="837.2" stroke="#3a3a3a" stroke-width="1.2"/>
<line x1="400.3" y1="837.2" x2="682.5" y2="837.2" stroke="#3a3a3a" stroke-width="1.2"/>
<line x1="396.3" y1="553.3" x2="400.3" y2="553.3" stroke="#3a3a3a" stroke-width="1.1"/>
<text x="388.9" y="556.9" font-size="10.2" text-anchor="end" fill="#1a1a1a" stroke="#1a1a1a" stroke-width="0.28">2500</text>
<line x1="396.3" y1="610.4" x2="400.3" y2="610.4" stroke="#3a3a3a" stroke-width="1.1"/>
<text x="388.9" y="614" font-size="10.2" text-anchor="end" fill="#1a1a1a" stroke="#1a1a1a" stroke-width="0.28">2000</text>
<line x1="396.3" y1="674.6" x2="400.3" y2="674.6" stroke="#3a3a3a" stroke-width="1.1"/>
<text x="388.9" y="678.2" font-size="10.2" text-anchor="end" fill="#1a1a1a" stroke="#1a1a1a" stroke-width="0.28">80</text>
<line x1="396.3" y1="715.3" x2="400.3" y2="715.3" stroke="#3a3a3a" stroke-width="1.1"/>
<text x="388.9" y="718.9" font-size="10.2" text-anchor="end" fill="#1a1a1a" stroke="#1a1a1a" stroke-width="0.28">60</text>
<line x1="396.3" y1="756.2" x2="400.3" y2="756.2" stroke="#3a3a3a" stroke-width="1.1"/>
<text x="388.9" y="759.8" font-size="10.2" text-anchor="end" fill="#1a1a1a" stroke="#1a1a1a" stroke-width="0.28">40</text>
<line x1="396.3" y1="797" x2="400.3" y2="797" stroke="#3a3a3a" stroke-width="1.1"/>
<text x="388.9" y="800.6" font-size="10.2" text-anchor="end" fill="#1a1a1a" stroke="#1a1a1a" stroke-width="0.28">20</text>
<line x1="396.3" y1="837.2" x2="400.3" y2="837.2" stroke="#3a3a3a" stroke-width="1.1"/>
<text x="388.9" y="840.8" font-size="10.2" text-anchor="end" fill="#1a1a1a" stroke="#1a1a1a" stroke-width="0.28">0</text>
<text x="415.73" y="853.4" font-size="10.4" font-weight="bold" text-anchor="end" transform="rotate(-45 415.73 853.4)" stroke="#000" stroke-width="0.35">DDX3</text>
<text x="441.38" y="853.4" font-size="10.4" font-weight="bold" text-anchor="end" transform="rotate(-45 441.38 853.4)" stroke="#000" stroke-width="0.35">p53</text>
<text x="467.04" y="853.4" font-size="10.4" font-weight="bold" text-anchor="end" transform="rotate(-45 467.04 853.4)" stroke="#000" stroke-width="0.35">DNMT1</text>
<text x="492.69" y="853.4" font-size="10.4" font-weight="bold" text-anchor="end" transform="rotate(-45 492.69 853.4)" stroke="#000" stroke-width="0.35">CTCF</text>
<text x="518.35" y="853.4" font-size="10.4" font-weight="bold" text-anchor="end" transform="rotate(-45 518.35 853.4)" stroke="#000" stroke-width="0.35">PARP1</text>
<text x="544" y="853.4" font-size="10.4" font-weight="bold" text-anchor="end" transform="rotate(-45 544 853.4)" stroke="#000" stroke-width="0.35">DNMT3B</text>
<text x="569.65" y="853.4" font-size="10.4" font-weight="bold" text-anchor="end" transform="rotate(-45 569.65 853.4)" stroke="#000" stroke-width="0.35">DNMT3A</text>
<text x="595.31" y="853.4" font-size="10.4" font-weight="bold" text-anchor="end" transform="rotate(-45 595.31 853.4)" stroke="#000" stroke-width="0.35">H3K4m3 (A)</text>
<text x="620.96" y="853.4" font-size="10.4" font-weight="bold" text-anchor="end" transform="rotate(-45 620.96 853.4)" stroke="#000" stroke-width="0.35">H3K9m3 ( R)</text>
<text x="646.62" y="853.4" font-size="10.4" font-weight="bold" text-anchor="end" transform="rotate(-45 646.62 853.4)" stroke="#000" stroke-width="0.35">H4K20m3 ( R)</text>
<text x="672.27" y="853.4" font-size="10.4" font-weight="bold" text-anchor="end" transform="rotate(-45 672.27 853.4)" stroke="#000" stroke-width="0.35">H3K27m3 ( R)</text>
<text x="353.4" y="771" font-size="11" font-weight="bold" transform="rotate(-90 353.4 771)" textLength="154" lengthAdjust="spacingAndGlyphs" stroke="#000" stroke-width="0.2">Relative enrichment against IgG</text>
<text x="505" y="543.8" font-size="13.8" font-weight="bold" textLength="14.9" lengthAdjust="spacingAndGlyphs" stroke="#000" stroke-width="0.25">P3</text>
<rect x="412.3" y="558.2" width="7.6" height="7.6" fill="#000"/>
<rect x="412.8" y="579.2" width="6.6" height="6.6" fill="#fff" stroke="#777" stroke-width="1"/>
<text x="423.8" y="565.2" font-size="11.5" font-weight="bold" textLength="19.6" lengthAdjust="spacingAndGlyphs" stroke="#000" stroke-width="0.25">Ctrl</text>
<text x="423.8" y="585.5" font-size="11.5" font-weight="bold" textLength="40.2" lengthAdjust="spacingAndGlyphs" stroke="#000" stroke-width="0.25">siDDX3</text>
</svg></body></html>
